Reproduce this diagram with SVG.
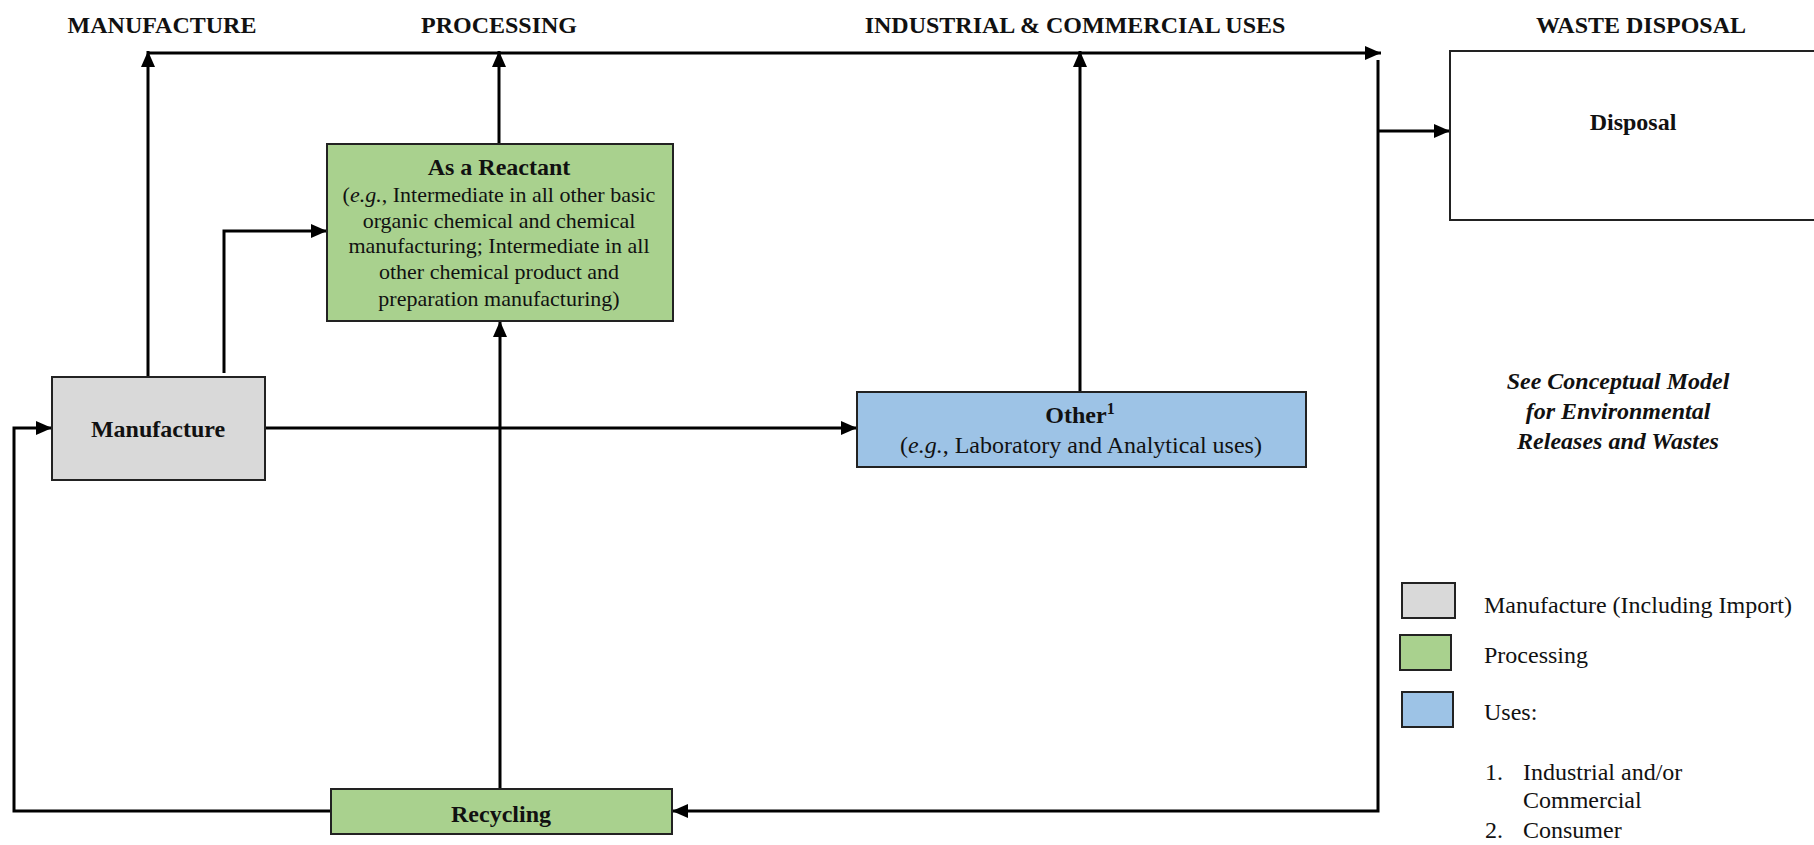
<svg xmlns="http://www.w3.org/2000/svg" width="1814" height="845" viewBox="0 0 1814 845">
<style>
text{font-family:"Liberation Serif","Times New Roman",serif;fill:#111;}
.h{font-size:24px;font-weight:bold;text-anchor:middle;}
.b{font-size:24px;font-weight:bold;text-anchor:middle;}
.t{font-size:22px;text-anchor:middle;}
.o{font-size:24px;text-anchor:middle;}
.lg{font-size:24px;}
.bi{font-size:24px;font-weight:bold;font-style:italic;text-anchor:middle;}
.box{stroke:#222;stroke-width:2;}
.c{fill:none;stroke:#000;stroke-width:3;marker-end:url(#ah);}
</style>
<defs>
<marker id="ah" markerUnits="userSpaceOnUse" markerWidth="18" markerHeight="18" viewBox="0 0 18 18" refX="17" refY="9" orient="auto">
<path d="M1,2 L17,9 L1,16 Z" fill="#000"/>
</marker>
</defs>
<rect width="1814" height="845" fill="#fff"/>

<g id="headers">
<text class="h" x="162" y="33">MANUFACTURE</text>
<text class="h" x="499" y="33">PROCESSING</text>
<text class="h" x="1075" y="33">INDUSTRIAL &amp; COMMERCIAL USES</text>
<text class="h" x="1641" y="33">WASTE DISPOSAL</text>
</g>

<g id="connectors">
<path class="c" d="M148,53 L1381,53"/>
<path class="c" d="M148,377 L148,51"/>
<path class="c" d="M224,373 L224,231 L327,231"/>
<path class="c" d="M499,144 L499,51"/>
<path class="c" d="M1080,392 L1080,51"/>
<path class="c" d="M265,428 L857,428"/>
<path class="c" d="M500,789 L500,321"/>
<path class="c" d="M331,811 L14,811 L14,428 L52,428"/>
<path class="c" d="M1378,60 L1378,811 L672,811"/>
<path class="c" d="M1378,131 L1450,131"/>
</g>

<g id="reactant">
<rect class="box" x="327" y="144" width="346" height="177" fill="#a9d18e"/>
<text class="b" x="499" y="175">As a Reactant</text>
<text class="t" x="499" y="202">(<tspan font-style="italic">e.g.</tspan>, Intermediate in all other basic</text>
<text class="t" x="499" y="228">organic chemical and chemical</text>
<text class="t" x="499" y="253">manufacturing; Intermediate in all</text>
<text class="t" x="499" y="279">other chemical product and</text>
<text class="t" x="499" y="306">preparation manufacturing)</text>
</g>

<g id="manufacture">
<rect class="box" x="52" y="377" width="213" height="103" fill="#d9d9d9"/>
<text class="b" x="158" y="437">Manufacture</text>
</g>

<g id="other">
<rect class="box" x="857" y="392" width="449" height="75" fill="#9dc3e6"/>
<text class="b" x="1080" y="423">Other<tspan font-size="16" dy="-9">1</tspan></text>
<text class="o" x="1081" y="453">(<tspan font-style="italic">e.g.</tspan>, Laboratory and Analytical uses)</text>
</g>

<g id="recycling">
<rect class="box" x="331" y="789" width="341" height="45" fill="#a9d18e"/>
<text class="b" x="501" y="822">Recycling</text>
</g>

<g id="disposal">
<rect class="box" x="1450" y="51" width="380" height="169" fill="#fff"/>
<text class="b" x="1633" y="130">Disposal</text>
</g>

<g id="note">
<text class="bi" x="1618" y="389">See Conceptual Model</text>
<text class="bi" x="1618" y="419">for Environmental</text>
<text class="bi" x="1618" y="449">Releases and Wastes</text>
</g>

<g id="legend">
<rect class="box" x="1402" y="583" width="53" height="35" fill="#d9d9d9"/>
<rect class="box" x="1400" y="635" width="51" height="35" fill="#a9d18e"/>
<rect class="box" x="1402" y="692" width="51" height="35" fill="#9dc3e6"/>
<text class="lg" x="1484" y="613">Manufacture (Including Import)</text>
<text class="lg" x="1484" y="663">Processing</text>
<text class="lg" x="1484" y="720">Uses:</text>
<text class="lg" x="1485" y="780">1.</text>
<text class="lg" x="1523" y="780">Industrial and/or</text>
<text class="lg" x="1523" y="808">Commercial</text>
<text class="lg" x="1485" y="838">2.</text>
<text class="lg" x="1523" y="838">Consumer</text>
</g>
</svg>
